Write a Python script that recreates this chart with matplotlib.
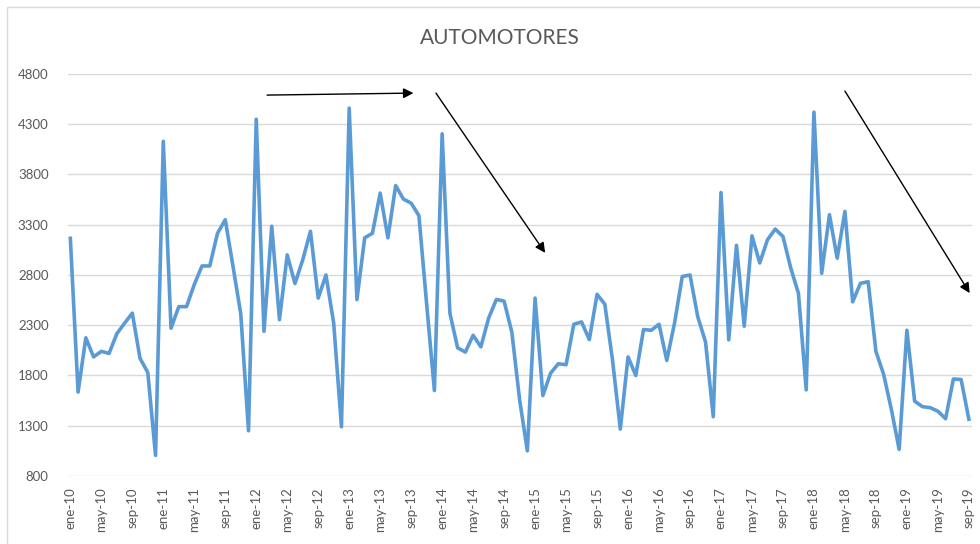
import matplotlib
matplotlib.use("Agg")
import matplotlib.pyplot as plt
from matplotlib.patches import Rectangle

# Ventas mensuales de automotores, ene-2010 a sep-2019
meses = ['ene', 'feb', 'mar', 'abr', 'may', 'jun', 'jul', 'ago', 'sep', 'oct', 'nov', 'dic']
anios = ['10', '11', '12', '13', '14', '15', '16', '17', '18', '19']

v2010 = [3165, 1635, 2175, 1985, 2040, 2020, 2215, 2320, 2420, 1970, 1830, 1005]
v2011 = [4130, 2270, 2485, 2485, 2705, 2890, 2890, 3215, 3350, 2885, 2415, 1250]
v2012 = [4350, 2240, 3285, 2355, 3000, 2715, 2950, 3235, 2570, 2800, 2320, 1290]
v2013 = [4460, 2555, 3170, 3215, 3615, 3170, 3690, 3555, 3515, 3390, 2510, 1650]
v2014 = [4205, 2420, 2075, 2033, 2200, 2085, 2370, 2557, 2540, 2230, 1560, 1050]
v2015 = [2570, 1600, 1823, 1917, 1907, 2310, 2333, 2157, 2607, 2510, 1950, 1267]
v2016 = [1985, 1800, 2257, 2250, 2310, 1950, 2320, 2785, 2800, 2385, 2135, 1390]
v2017 = [3620, 2155, 3095, 2290, 3190, 2920, 3150, 3257, 3183, 2870, 2617, 1657]
v2018 = [4420, 2817, 3400, 2967, 3433, 2533, 2717, 2733, 2040, 1810, 1460, 1065]
v2019 = [2250, 1545, 1490, 1480, 1445, 1370, 1765, 1760, 1365]

ventas = v2010 + v2011 + v2012 + v2013 + v2014 + v2015 + v2016 + v2017 + v2018 + v2019
etiquetas = [m + '-' + a for a in anios for m in meses][:len(ventas)]
x = list(range(len(ventas)))

plt.rcParams['font.family'] = ['Lato', 'DejaVu Sans']
gris = '#595959'

fig = plt.figure(figsize=(9.8, 5.44), dpi=100)
ax = fig.add_axes([0.0694, 0.125, 0.9224, 0.739])

ax.plot(x, ventas, color='#5B9BD5', lw=2.6, solid_joinstyle='round', zorder=3)

ax.set_ylim(800, 4800)
ax.set_yticks(range(800, 4801, 500))
ax.set_xlim(-0.3, len(ventas) - 0.6)
ax.set_xticks(x[::4])
ax.set_xticklabels(etiquetas[::4], rotation=90)
ax.tick_params(length=0, colors=gris, labelsize=9.5)
ax.tick_params(axis='y', pad=14)
ax.tick_params(axis='x', pad=8)
ax.grid(axis='y', color='#D9D9D9', lw=1)
for s in ax.spines.values():
    s.set_visible(False)

fig.text(500 / 980, 1 - 38 / 544, 'AUTOMOTORES', color=gris, fontsize=15,
         ha='center', va='center')

# flechas de tendencia
flecha = dict(arrowstyle='-|>', color='black', lw=1, mutation_scale=15, shrinkA=0, shrinkB=0)
ax.annotate('', xy=(44.3, 4610), xytext=(25.4, 4590), arrowprops=flecha, annotation_clip=False)
ax.annotate('', xy=(61.3, 3020), xytext=(47.2, 4610), arrowprops=flecha, annotation_clip=False)
ax.annotate('', xy=(116.1, 2620), xytext=(100.0, 4630), arrowprops=flecha, annotation_clip=False)

# borde del grafico
fig.patches.append(Rectangle((7 / 980, -0.05), 1.1, 1 - 7 / 544 + 0.05, transform=fig.transFigure,
                             fill=False, edgecolor='#D9D9D9', lw=1))

fig.savefig('out.png', dpi=100)
